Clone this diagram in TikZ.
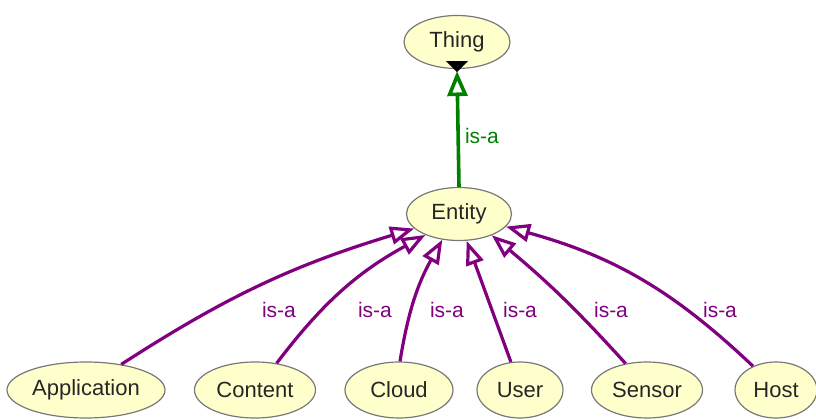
\documentclass[tikz,border=0pt]{standalone}
\usepackage{fontspec}
\setmainfont{Liberation Sans}
\usetikzlibrary{shapes.geometric,arrows.meta}
\definecolor{nodefill}{RGB}{255,255,204}
\definecolor{isapurple}{RGB}{128,0,128}
\definecolor{isagreen}{RGB}{0,128,0}
\definecolor{nodeborder}{RGB}{120,120,120}
\begin{document}
\begin{tikzpicture}[x=1pt,y=1pt,
  concept/.style={ellipse, draw=nodeborder, line width=1.2pt, fill=nodefill,
    inner sep=0pt, minimum height=56pt, font=\fontsize{22}{26}\selectfont, text=black!85},
  isa/.style={draw=isapurple, line width=3.2pt, -{Triangle[open,length=24pt,width=18pt]}},
  isag/.style={draw=isagreen, line width=3.6pt, -{Triangle[open,length=25pt,width=20pt]}},
  isalabel/.style={text=isapurple, font=\fontsize{21}{25}\selectfont, inner sep=0pt},
  isalabelg/.style={text=isagreen, font=\fontsize{21}{25}\selectfont, inner sep=0pt},
]
\useasboundingbox (0,0) rectangle (816,420);
\fill[white] (0,0) rectangle (816,420);

\node[concept, minimum width=106pt, minimum height=53pt] (thing) at (457,378) {Thing};
\node[concept, minimum width=105pt, minimum height=53pt] (ent) at (459,206) {Entity};

\node[concept, minimum width=158pt] (app) at (86,30) {Application};
\node[concept, minimum width=121pt] (cont) at (255,30) {Content};
\node[concept, minimum width=108pt] (cloud) at (399,30) {Cloud};
\node[concept, minimum width=86pt] (user) at (520,30) {User};
\node[concept, minimum width=111pt] (sens) at (647,30) {Sensor};
\node[concept, minimum width=82pt] (host) at (776,30) {Host};

% green is-a
\draw[isag, shorten >=2pt] (ent.north) -- (thing.south);
\fill[black] ([xshift=-11pt,yshift=8pt]thing.south) -- ([xshift=11pt,yshift=8pt]thing.south) -- ([yshift=-3pt]thing.south) -- cycle;
\node[isalabelg] (lg) at (482,284) {is-a};

% purple is-a
\draw[isa] (app.36) to[bend left=8] (ent.198);
\draw[isa] (cont.51) to[bend left=12] (ent.212);
\draw[isa] (cloud.88) to[bend left=10] (ent.237);
\draw[isa] (user.108) -- (ent.286);
\draw[isa] (sens.129) to[bend right=4] (ent.327);
\draw[isa] (host.134) to[bend right=14] (ent.345);

\node[isalabel] (l1) at (279,110) {is-a};
\node[isalabel] (l2) at (375,110) {is-a};
\node[isalabel] (l3) at (447,110) {is-a};
\node[isalabel] (l4) at (520,110) {is-a};
\node[isalabel] (l5) at (611,110) {is-a};
\node[isalabel] (l6) at (720,110) {is-a};
\end{tikzpicture}
\end{document}
